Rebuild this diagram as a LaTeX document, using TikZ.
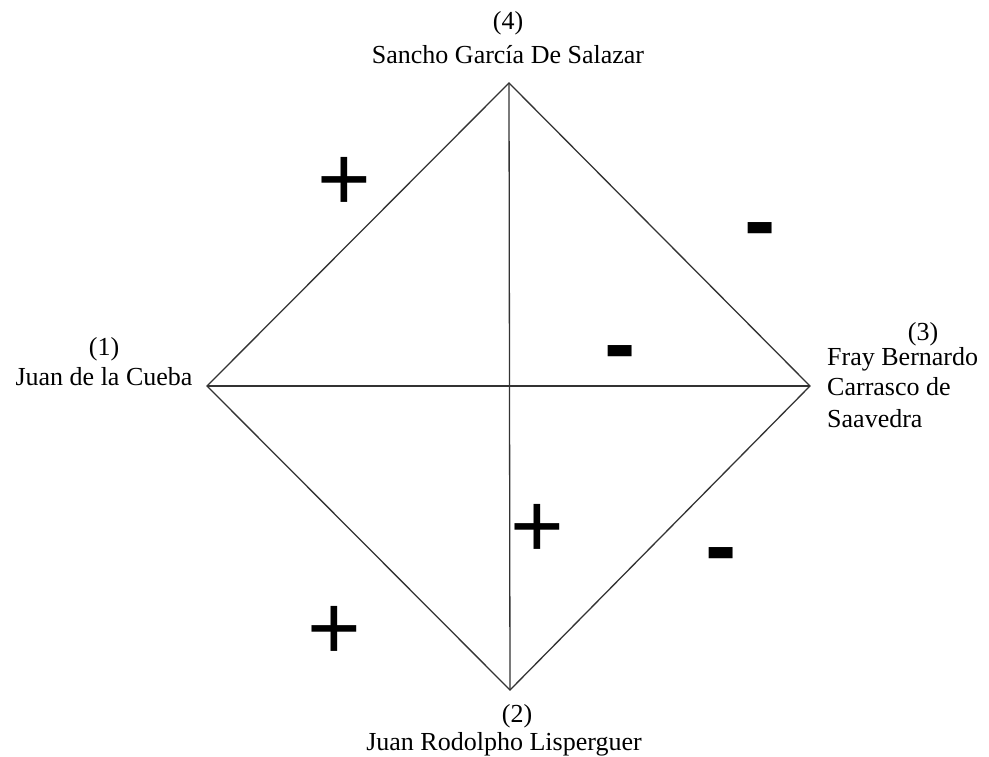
\documentclass[tikz,border=0pt]{standalone}
\usepackage{fontspec}
\setmainfont{Liberation Serif}
\newfontfamily\signfont{Liberation Sans}
\begin{document}
\begin{tikzpicture}[x=1pt,y=-1pt,
  edge/.style={draw=black!80,line width=1.3pt},
  lbl/.style={inner sep=0pt,anchor=base,font=\fontsize{26}{31}\selectfont},
  lblw/.style={inner sep=0pt,anchor=base west,font=\fontsize{26}{31}\selectfont},
  plus/.style={inner sep=0pt,anchor=base,font=\signfont\fontsize{92}{92}\selectfont},
  minus/.style={inner sep=0pt,anchor=base,font=\signfont\bfseries\fontsize{94}{94}\selectfont}]
\useasboundingbox[fill=white] (0,0) rectangle (989,757);
\coordinate (T) at (509,83);
\coordinate (B) at (510,690);
\coordinate (L) at (207,386);
\coordinate (R) at (810,386);
\draw[edge] (T) -- (R) -- (B) -- (L) -- cycle;
\draw[edge] (T) -- (B);
\draw[edge] (L) -- (R);
% labels
\node[lbl] (n4) at (508,30) {(4)};
\node[lbl] (s4) at (508,64) {Sancho García De Salazar};
\node[lbl] (n1) at (104,355) {(1)};
\node[lbl] (s1) at (104,385) {Juan de la Cueba};
\node[lbl] (n3) at (923,340) {(3)};
\node[lblw] (s3a) at (827,365) {Fray Bernardo};
\node[lblw] (s3b) at (827,395) {Carrasco de};
\node[lblw] (s3c) at (827,427) {Saavedra};
\node[lbl] (n2) at (517,722) {(2)};
\node[lbl] (s2) at (504,750) {Juan Rodolpho Lisperguer};
% signs
\node[plus] (p1) at (344,211) {+};
\node[minus] (m1) at (760,252) {-};
\node[minus] (m2) at (620,375) {-};
\node[plus] (p2) at (537,557) {+};
\node[minus] (m3) at (721,577) {-};
\node[plus] (p3) at (334,659) {+};
\end{tikzpicture}
\end{document}
